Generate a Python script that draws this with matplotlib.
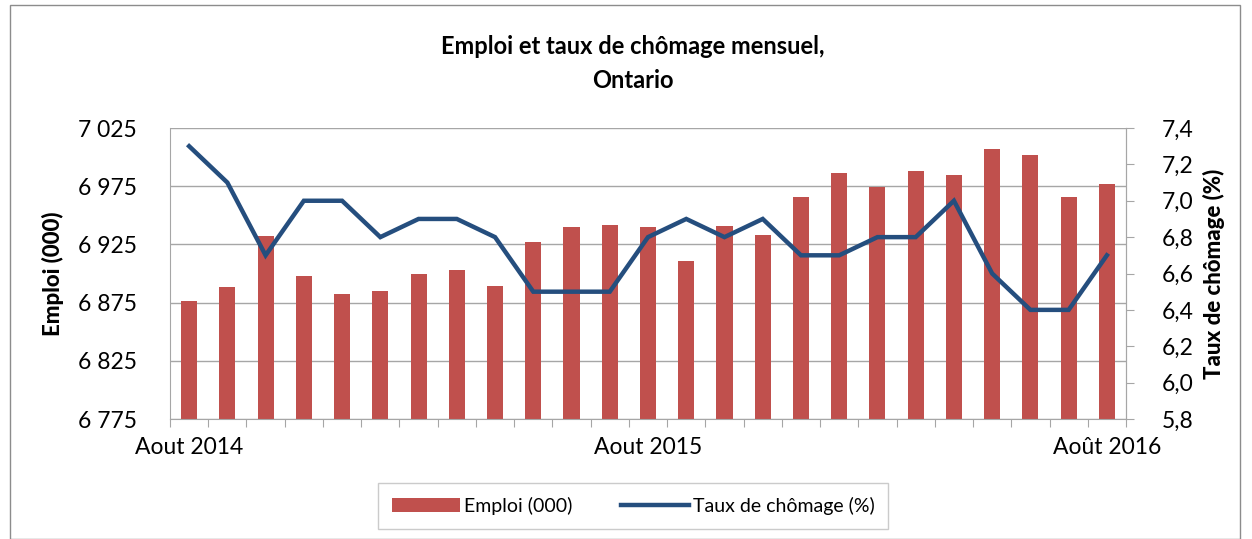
import matplotlib
matplotlib.use("Agg")
import matplotlib.pyplot as plt
from matplotlib.patches import Rectangle
import numpy as np

months = list(range(25))
emploi = [6876, 6888, 6932, 6898, 6882, 6885, 6900, 6903, 6889, 6927,
          6940, 6942, 6940, 6911, 6941, 6933, 6966, 6986, 6974, 6988,
          6985, 7007, 7002, 6966, 6977]
chomage = [7.3, 7.1, 6.7, 7.0, 7.0, 6.8, 6.9, 6.9, 6.8, 6.5,
           6.5, 6.5, 6.8, 6.9, 6.8, 6.9, 6.7, 6.7, 6.8, 6.8,
           7.0, 6.6, 6.4, 6.4, 6.7]
xlabels = {0: "Aout 2014", 12: "Aout 2015", 24: "Août 2016"}
left_ticks = [6775, 6825, 6875, 6925, 6975, 7025]
right_ticks = [5.8, 6.0, 6.2, 6.4, 6.6, 6.8, 7.0, 7.2, 7.4]

plt.rcParams['font.family'] = ['Lato', 'DejaVu Sans']
W, H = 1252, 539
fig = plt.figure(figsize=(W/100, H/100), dpi=100)
fig.patches.append(Rectangle((10/W, 0.0), (1240-10)/W, (539-5)/H, transform=fig.transFigure,
                             fill=False, edgecolor='#8c8c8c', lw=1))

ax = fig.add_axes([170/W, 1-419/H, (1126-170)/W, (419-128)/H])
grid_c = '#a6a6a6'
bar_c = '#c0504d'
line_c = '#254e7e'

x = np.array(months)
ax.bar(x, [e - 6775 for e in emploi], bottom=6775, width=0.42, color=bar_c, zorder=2,
       label='Emploi (000)')
ax.set_xlim(-0.5, 24.5)
ax.set_ylim(6775, 7025)
ax.set_yticks(left_ticks)
ax.set_yticklabels([f"{v:,}".replace(",", " ") for v in left_ticks])
ax.yaxis.grid(True, color=grid_c, lw=1, zorder=0)
ax.set_axisbelow(True)
ax.set_xticks([i - 0.5 for i in range(26)], minor=False)
ax.set_xticklabels([])
ax.tick_params(axis='x', length=6, color=grid_c, direction='out')
ax.set_xticks(list(xlabels.keys()), minor=True)
ax.set_xticklabels(list(xlabels.values()), minor=True)
ax.tick_params(axis='x', which='minor', length=0, pad=13, labelsize=16.5)
ax.tick_params(axis='y', length=0, labelsize=16.5, pad=24)
ax.spines['top'].set_visible(False)
for s in ['left', 'right', 'bottom']:
    ax.spines[s].set_color(grid_c)
ax.set_ylabel('Emploi (000)', fontsize=16, fontweight='black', labelpad=10)

ax2 = ax.twinx()
ax2.plot(x, chomage, color=line_c, lw=3.2, zorder=3, label='Taux de chômage (%)',
         solid_joinstyle='miter')
ax2.set_ylim(5.8, 7.4)
ax2.set_yticks(right_ticks)
ax2.set_yticklabels([f"{v:.1f}".replace(".", ",") for v in right_ticks])
ax2.tick_params(axis='y', length=6, color=grid_c, direction='out', labelsize=16.5, pad=20)
for s in ['top', 'left', 'bottom']:
    ax2.spines[s].set_visible(False)
ax2.spines['right'].set_color(grid_c)
ax2.set_ylabel('Taux de chômage (%)', fontsize=16, fontweight='black', labelpad=6)

fig.text(633/W, 1-47/H, "Emploi et taux de chômage mensuel,", ha='center', va='center',
         fontsize=17, fontweight='bold')
fig.text(633/W, 1-80/H, "Ontario", ha='center', va='center', fontsize=17, fontweight='bold')

h1, l1 = ax.get_legend_handles_labels()
h2, l2 = ax2.get_legend_handles_labels()
leg = fig.legend(h1 + h2, l1 + l2, loc='center', bbox_to_anchor=(633/W, 1-506/H), ncol=2,
                 frameon=True, fancybox=False, edgecolor='#bfbfbf', fontsize=14,
                 handlelength=3.5, handletextpad=0.2, columnspacing=2.5,
                 borderpad=0.7)
leg.get_frame().set_linewidth(1)

fig.savefig('out.png', dpi=100)
